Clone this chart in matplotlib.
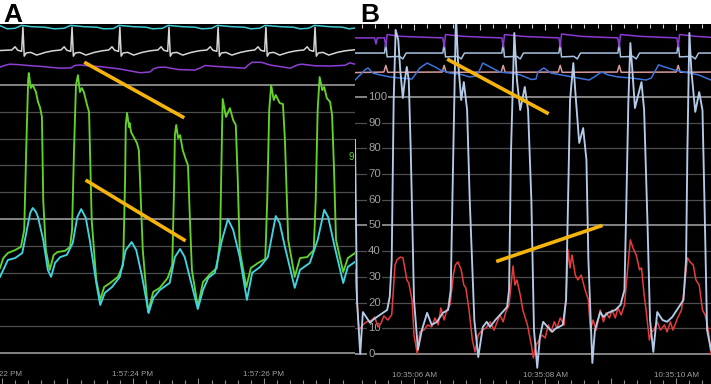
import matplotlib
matplotlib.use("Agg")
import matplotlib.pyplot as plt
from matplotlib.ticker import MultipleLocator

plt.rcParams['font.family'] = ['Liberation Sans', 'DejaVu Sans']

# ---------------- panel A : seconds after 1:57:22 PM ----------------
a_time_ticks = [0, 2, 4]
a_time_labels = ['1:57:22 PM', '1:57:24 PM', '1:57:26 PM']

# arterial pressure (green)
a_art = [(-0.03, 31.7), (0.02, 35.4), (0.09, 37.3), (0.20, 38.4), (0.29, 39.6), (0.34, 45.9),
         (0.37, 75.7), (0.40, 101.9), (0.41, 104.5), (0.44, 98.9), (0.47, 100.0), (0.52, 97.4),
         (0.55, 93.7), (0.58, 91.8), (0.61, 88.1), (0.63, 57.1), (0.67, 38.4), (0.73, 31.0),
         (0.79, 36.6), (0.85, 37.7), (0.96, 38.1), (1.04, 39.6), (1.07, 45.9), (1.10, 75.7),
         (1.13, 100.0), (1.16, 103.7), (1.19, 97.4), (1.22, 98.9), (1.25, 97.4), (1.30, 92.5),
         (1.33, 89.9), (1.34, 79.5), (1.37, 49.6), (1.44, 27.2), (1.50, 19.8), (1.56, 24.6),
         (1.65, 26.1), (1.77, 28.4), (1.85, 32.8), (1.88, 64.6), (1.89, 85.1), (1.91, 89.6),
         (1.94, 84.3), (1.95, 85.8), (1.97, 82.5), (2.02, 80.2), (2.06, 78.4), (2.09, 75.7),
         (2.12, 57.1), (2.15, 38.4), (2.23, 15.3), (2.31, 22.8), (2.41, 24.3), (2.53, 28.0),
         (2.60, 32.8), (2.63, 64.6), (2.64, 81.3), (2.66, 85.1), (2.69, 80.2), (2.72, 81.3),
         (2.76, 75.7), (2.81, 72.0), (2.84, 70.1), (2.87, 49.6), (2.90, 31.0), (2.99, 17.2),
         (3.07, 26.5), (3.18, 29.5), (3.28, 31.7), (3.33, 42.2), (3.36, 83.2), (3.37, 94.8),
         (3.42, 88.1), (3.48, 91.4), (3.53, 86.9), (3.57, 85.1), (3.60, 64.6), (3.63, 38.4),
         (3.73, 24.6), (3.80, 31.7), (3.91, 33.6), (4.02, 35.1), (4.05, 57.1), (4.08, 90.7),
         (4.11, 100.0), (4.15, 94.4), (4.18, 96.3), (4.24, 93.3), (4.29, 92.9), (4.32, 79.5),
         (4.37, 42.2), (4.47, 28.4), (4.55, 35.4), (4.66, 35.8), (4.76, 38.4), (4.79, 57.1),
         (4.82, 90.7), (4.85, 103.0), (4.89, 98.1), (4.92, 99.3), (4.96, 95.1), (5.01, 93.7),
         (5.04, 88.8), (5.07, 68.3), (5.10, 42.2), (5.21, 30.2), (5.28, 35.4), (5.39, 37.3)]

# second pressure (cyan, lower)
a_cyan = [(-0.03, 28.4), (0.02, 31.0), (0.09, 34.7), (0.20, 35.4), (0.31, 37.3), (0.38, 45.9),
          (0.43, 52.2), (0.47, 54.1), (0.52, 52.6), (0.55, 50.7), (0.63, 42.2), (0.70, 31.0),
          (0.75, 28.4), (0.81, 33.6), (0.89, 35.8), (0.99, 36.6), (1.08, 41.0), (1.15, 50.7),
          (1.21, 53.7), (1.28, 50.4), (1.34, 42.2), (1.44, 26.1), (1.50, 17.9), (1.57, 22.4),
          (1.68, 24.6), (1.80, 28.4), (1.89, 38.4), (1.98, 41.4), (2.05, 38.4), (2.14, 28.4),
          (2.24, 14.9), (2.31, 20.5), (2.41, 23.5), (2.56, 26.1), (2.64, 35.8), (2.72, 38.8),
          (2.79, 35.8), (2.87, 28.0), (2.99, 16.4), (3.07, 23.5), (3.15, 28.0), (3.25, 29.9),
          (3.36, 42.2), (3.45, 50.0), (3.53, 45.9), (3.63, 35.8), (3.74, 19.8), (3.82, 29.9),
          (3.94, 32.1), (4.06, 35.8), (4.18, 51.1), (4.24, 48.5), (4.32, 39.6), (4.47, 24.3),
          (4.55, 31.0), (4.70, 33.6), (4.82, 42.2), (4.92, 53.4), (4.98, 50.7), (5.08, 39.6),
          (5.21, 26.1), (5.28, 32.1), (5.39, 34.0)]

# ECG (white)
a_ecg = [(-0.03, 112.9), (0.15, 113.1), (0.20, 114.3), (0.24, 113.0), (0.30, 112.6), (0.32, 121.6),
         (0.34, 110.8), (0.37, 112.0), (0.44, 112.2), (0.53, 111.2), (0.66, 112.2), (0.78, 112.8),
         (0.90, 113.1), (0.95, 114.3), (0.99, 113.0), (1.05, 112.6), (1.07, 121.6), (1.09, 110.8),
         (1.12, 112.0), (1.19, 112.2), (1.28, 111.2), (1.41, 112.2), (1.53, 112.8),
         (1.63, 113.1), (1.68, 114.3), (1.72, 113.0), (1.78, 112.6), (1.80, 121.6), (1.82, 110.8),
         (1.85, 112.0), (1.92, 112.2), (2.01, 111.2), (2.14, 112.2), (2.26, 112.8),
         (2.38, 113.1), (2.43, 114.3), (2.47, 113.0), (2.53, 112.6), (2.55, 121.6), (2.57, 110.8),
         (2.60, 112.0), (2.67, 112.2), (2.76, 111.2), (2.89, 112.2), (3.01, 112.8),
         (3.13, 113.1), (3.18, 114.3), (3.22, 113.0), (3.28, 112.6), (3.30, 121.6), (3.32, 110.8),
         (3.35, 112.0), (3.42, 112.2), (3.51, 111.2), (3.64, 112.2), (3.76, 112.8),
         (3.86, 113.1), (3.91, 114.3), (3.95, 113.0), (4.01, 112.6), (4.03, 121.6), (4.05, 110.8),
         (4.08, 112.0), (4.15, 112.2), (4.24, 111.2), (4.37, 112.2), (4.49, 112.8),
         (4.61, 113.1), (4.66, 114.3), (4.70, 113.0), (4.76, 112.6), (4.78, 121.6), (4.80, 110.8),
         (4.83, 112.0), (4.90, 112.2), (4.99, 111.2), (5.12, 112.2), (5.24, 112.8), (5.39, 113.2)]

# pleth / resp (purple)
a_purple = [(-0.03, 106.7), (0.05, 107.4), (0.12, 107.8), (0.27, 107.6), (0.45, 107.2), (0.58, 107.0),
            (0.89, 106.3), (1.05, 106.4), (1.11, 107.3), (1.19, 107.5), (1.35, 107.1), (1.50, 106.9),
            (1.80, 106.0), (2.11, 104.6), (2.26, 104.9), (2.31, 106.0), (2.38, 106.6), (2.49, 106.7),
            (2.69, 105.8), (2.95, 105.6), (3.02, 106.3), (3.10, 107.3), (3.25, 107.0), (3.50, 106.6),
            (3.71, 106.3), (3.76, 107.5), (3.82, 108.5), (3.96, 108.5), (4.09, 107.5), (4.40, 106.3),
            (4.52, 107.6), (4.58, 107.8), (4.78, 107.2), (5.01, 107.1), (5.24, 107.4), (5.31, 108.3),
            (5.39, 107.8)]

# top cyan trace
a_cyan_top = [(-0.03, 122.2), (0.08, 121.0), (0.20, 121.2), (0.30, 122.3), (0.45, 121.8), (0.65, 121.6),
              (0.80, 121.0), (0.95, 121.2), (1.05, 122.3), (1.25, 121.8), (1.45, 121.6), (1.55, 121.0),
              (1.70, 121.1), (1.79, 122.3), (2.00, 121.8), (2.20, 121.6), (2.30, 121.0), (2.45, 121.2),
              (2.54, 122.3), (2.75, 121.8), (2.95, 121.6), (3.05, 121.0), (3.20, 121.2), (3.29, 122.3),
              (3.50, 121.8), (3.70, 121.6), (3.80, 121.0), (3.93, 121.2), (4.02, 122.3), (4.25, 121.8),
              (4.45, 121.6), (4.55, 121.0), (4.68, 121.2), (4.77, 122.3), (5.00, 121.8), (5.20, 121.6),
              (5.30, 121.0), (5.39, 121.3)]

a_marks = [[(1.28, 108.2), (2.76, 88.1)], [(1.30, 64.2), (2.78, 42.2)]]

# ---------------- panel B : seconds after 10:35:00 AM ----------------
b_time_ticks = [6, 8, 10]
b_time_labels = ['10:35:06 AM', '10:35:08 AM', '10:35:10 AM']
b_levels = [0, 10, 20, 30, 40, 50, 60, 70, 80, 90, 100]

b_lv = [(5.10, 83.3), (5.13, 21.0), (5.18, 0.0), (5.22, 16.3), (5.28, 14.0), (5.33, 12.1), (5.37, 13.2),
        (5.48, 15.2), (5.59, 17.1), (5.63, 22.2), (5.66, 36.6), (5.69, 98.8), (5.72, 126.1),
        (5.76, 122.2), (5.79, 110.5), (5.83, 99.6), (5.86, 106.6), (5.89, 111.7), (5.92, 106.6),
        (5.95, 79.4), (6.00, 21.0), (6.06, 1.6), (6.12, 9.3), (6.20, 16.0), (6.27, 11.3), (6.35, 12.5),
        (6.44, 16.0), (6.52, 17.1), (6.56, 24.9), (6.60, 79.4), (6.64, 132.0), (6.67, 114.4),
        (6.72, 98.8), (6.76, 105.8), (6.81, 94.9), (6.85, 59.9), (6.92, 13.2), (6.98, -1.2),
        (7.05, 10.5), (7.11, 12.5), (7.16, 10.5), (7.24, 13.2), (7.34, 16.0), (7.42, 18.3),
        (7.45, 24.9), (7.48, 79.4), (7.53, 124.9), (7.57, 106.6), (7.62, 94.9), (7.69, 103.9),
        (7.74, 94.9), (7.79, 59.9), (7.83, 9.3), (7.88, -5.4), (7.92, 6.6), (7.97, 12.5), (8.05, 10.1),
        (8.11, 8.6), (8.15, 9.7), (8.27, 11.3), (8.32, 21.0), (8.35, 59.9), (8.38, 98.8), (8.43, 113.2),
        (8.47, 98.8), (8.52, 82.1), (8.58, 87.9), (8.63, 75.5), (8.66, 36.6), (8.72, -3.5), (8.76, 9.3),
        (8.84, 16.3), (8.89, 14.4), (8.96, 16.0), (9.07, 17.1), (9.15, 19.1), (9.21, 24.9), (9.24, 59.9),
        (9.27, 98.8), (9.30, 121.0), (9.33, 110.5), (9.37, 95.7), (9.42, 100.8), (9.47, 105.8),
        (9.51, 94.9), (9.56, 52.1), (9.60, 13.2), (9.65, 0.8), (9.71, 16.3), (9.79, 13.2), (9.86, 12.5),
        (9.94, 14.4), (10.03, 17.9), (10.11, 21.0), (10.15, 36.6), (10.17, 79.4), (10.20, 124.9),
        (10.23, 110.5), (10.29, 94.2), (10.35, 101.9), (10.40, 94.9), (10.43, 59.9), (10.47, 9.3),
        (10.53, 1.6)]

b_ao = [(5.10, 32.7), (5.13, 21.0), (5.16, 9.3), (5.22, 11.3), (5.28, 12.5), (5.36, 13.2), (5.40, 14.4),
        (5.45, 10.5), (5.50, 12.1), (5.54, 14.8), (5.60, 13.2), (5.66, 15.2), (5.71, 34.6), (5.74, 36.6),
        (5.79, 37.7), (5.83, 37.4), (5.86, 33.5), (5.89, 28.8), (5.92, 27.6), (5.97, 21.0), (6.00, 7.4),
        (6.05, 0.0), (6.09, 8.6), (6.15, 9.3), (6.21, 11.3), (6.27, 10.5), (6.32, 14.0), (6.37, 11.3),
        (6.41, 17.9), (6.46, 13.2), (6.50, 17.1), (6.55, 19.1), (6.60, 30.7), (6.63, 34.6), (6.67, 35.8),
        (6.72, 32.7), (6.76, 26.8), (6.79, 25.7), (6.84, 17.1), (6.89, 5.4), (6.93, 0.8), (6.98, 7.4),
        (7.04, 9.3), (7.10, 10.1), (7.16, 12.5), (7.22, 9.3), (7.27, 12.5), (7.31, 15.2), (7.36, 12.5),
        (7.40, 16.3), (7.45, 19.1), (7.48, 26.8), (7.51, 34.2), (7.54, 26.8), (7.57, 28.8), (7.62, 23.0),
        (7.66, 17.1), (7.73, 11.3), (7.79, 3.5), (7.82, -1.6), (7.86, 3.5), (7.91, 5.4), (7.95, 7.4),
        (8.00, 6.2), (8.05, 11.3), (8.09, 8.6), (8.14, 12.5), (8.18, 10.1), (8.23, 14.0), (8.29, 11.3),
        (8.32, 23.0), (8.35, 40.5), (8.38, 33.5), (8.41, 38.5), (8.46, 30.7), (8.50, 28.8), (8.55, 30.7),
        (8.61, 24.9), (8.66, 21.0), (8.69, 9.3), (8.73, 13.2), (8.78, 9.3), (8.84, 17.1), (8.89, 12.5),
        (8.93, 16.0), (8.98, 14.0), (9.02, 17.1), (9.07, 14.0), (9.11, 17.9), (9.16, 15.2), (9.21, 19.1),
        (9.25, 30.7), (9.30, 44.4), (9.34, 41.2), (9.39, 38.5), (9.44, 32.7), (9.47, 33.5), (9.51, 23.0),
        (9.54, 17.1), (9.59, 5.4), (9.62, 8.6), (9.66, 9.3), (9.71, 12.5), (9.76, 9.3), (9.82, 11.3),
        (9.86, 8.6), (9.91, 12.5), (9.95, 9.3), (10.02, 14.0), (10.08, 17.1), (10.12, 24.9), (10.17, 37.4),
        (10.21, 35.8), (10.26, 34.6), (10.30, 28.8), (10.35, 26.8), (10.40, 17.1), (10.44, 15.2),
        (10.49, 9.3), (10.53, 0.0)]

b_blue = [(5.10, 106.6), (5.18, 108.6), (5.25, 110.5), (5.30, 111.3), (5.37, 109.3), (5.48, 108.6),
          (5.63, 107.8), (5.79, 107.4), (5.97, 107.0), (6.09, 111.3), (6.20, 113.2), (6.32, 111.7),
          (6.40, 110.5), (6.55, 109.3), (6.70, 108.9), (6.85, 107.8), (6.96, 108.2), (7.05, 113.2),
          (7.16, 111.7), (7.31, 109.7), (7.47, 109.3), (7.62, 108.6), (7.79, 106.8), (7.86, 107.0),
          (7.89, 109.7), (7.98, 111.3), (8.09, 109.3), (8.24, 108.6), (8.50, 107.4), (8.67, 106.6),
          (8.75, 107.8), (8.86, 109.7), (8.96, 108.6), (9.11, 107.8), (9.31, 107.4), (9.54, 106.6),
          (9.62, 107.4), (9.73, 112.5), (9.82, 111.7), (9.97, 110.5), (10.12, 109.7), (10.34, 108.6),
          (10.53, 106.6)]

b_pink = [(5.10, 109.5), (5.54, 109.7), (5.57, 112.3), (5.60, 109.6), (6.43, 109.7), (6.46, 112.3),
          (6.49, 109.6), (7.33, 109.7), (7.36, 112.3), (7.39, 109.6), (8.20, 109.7), (8.23, 112.3),
          (8.26, 109.6), (9.10, 109.7), (9.13, 112.3), (9.16, 109.6), (10.00, 109.7), (10.03, 112.3),
          (10.06, 109.6), (10.53, 109.7)]

b_ecg = [(5.10, 117.1), (5.55, 117.1), (5.57, 121.0), (5.59, 115.6), (5.78, 115.8), (5.83, 114.8),
         (5.88, 117.1), (6.44, 117.1), (6.46, 121.0), (6.48, 115.6), (6.67, 115.8), (6.72, 114.8),
         (6.77, 117.1), (7.34, 117.1), (7.36, 121.0), (7.38, 115.6), (7.57, 115.8), (7.62, 114.8),
         (7.67, 117.1), (8.21, 117.1), (8.23, 121.0), (8.25, 115.6), (8.44, 115.8), (8.49, 114.8),
         (8.54, 117.1), (9.11, 117.1), (9.13, 121.0), (9.15, 115.6), (9.34, 115.8), (9.39, 114.8),
         (9.44, 117.1), (10.01, 117.1), (10.03, 121.0), (10.05, 115.6), (10.24, 115.8), (10.29, 114.8),
         (10.34, 117.1), (10.53, 117.1)]

b_purple = [(5.10, 123.0), (5.40, 123.0), (5.42, 120.6), (5.44, 123.0), (5.55, 123.0), (5.57, 119.5),
            (5.59, 124.3), (5.80, 123.6), (6.20, 123.2), (6.44, 123.0), (6.46, 119.5), (6.48, 124.3),
            (6.75, 123.6), (7.10, 123.2), (7.34, 123.0), (7.36, 119.5), (7.38, 124.3), (7.65, 123.6),
            (8.00, 123.2), (8.21, 123.0), (8.23, 119.5), (8.25, 124.5), (8.55, 123.6), (8.90, 123.2),
            (9.11, 123.0), (9.13, 119.5), (9.15, 124.3), (9.45, 123.6), (9.80, 123.2), (10.01, 123.0),
            (10.03, 119.5), (10.05, 124.3), (10.30, 123.6), (10.53, 123.2)]

b_marks = [[(6.53, 114.4), (8.03, 93.8)], [(7.28, 36.2), (8.85, 49.8)]]

ORANGE = '#f5b40c'
GRID_DIM = '#4e4e4e'
GRID_BRIGHT = '#8e8e8e'
TXT = '#a0a0a0'


def trace(ax, pts, color, lw=1.1, z=3):
    t, v = zip(*pts)
    ax.plot(t, v, color=color, lw=lw, zorder=z, solid_joinstyle='round')


def setup(ax, xlim, ylim, top_ticks=False):
    ax.set_facecolor('black')
    ax.set_xlim(*xlim)
    ax.set_ylim(*ylim)
    for s in ax.spines.values():
        s.set_visible(False)
    ax.set_yticks([])
    ax.xaxis.set_major_locator(MultipleLocator(1))
    ax.xaxis.set_minor_locator(MultipleLocator(0.2))
    ax.tick_params(axis='x', which='both', direction='in', colors='#8a8a8a',
                   labelbottom=False, width=0.8)
    ax.tick_params(axis='x', which='major', length=4.5)
    ax.tick_params(axis='x', which='minor', length=2.6)
    for lev in range(0, 101, 10):
        bright = lev in (0, 50, 100)
        ax.axhline(lev, color=GRID_BRIGHT if bright else GRID_DIM,
                   lw=1.3 if bright else 0.9, zorder=1)
    if top_ticks:
        sec = ax.secondary_xaxis('top')
        sec.xaxis.set_major_locator(MultipleLocator(1))
        sec.xaxis.set_minor_locator(MultipleLocator(0.2))
        sec.tick_params(which='both', direction='in', colors='#d0d0d0', labeltop=False, width=0.8)
        sec.tick_params(which='major', length=4)
        sec.tick_params(which='minor', length=2.6)
        sec.spines['top'].set_visible(False)


fig = plt.figure(figsize=(7.11, 3.84), dpi=100, facecolor='white')
h = 360 / 384

# ---- panel A
axA = fig.add_axes([0, 0, 355 / 711, h])
setup(axA, (-0.03, 5.39), (-11.6, 122.8))
trace(axA, a_cyan_top, '#3fc9d2')
trace(axA, a_ecg, '#d6d6d6')
trace(axA, a_purple, '#8f3fd4')
trace(axA, a_art, '#63d22b', lw=1.35)
trace(axA, a_cyan, '#3fd4e0', lw=1.35)
for seg in a_marks:
    trace(axA, seg, ORANGE, lw=2.6, z=5)
axA.text(5.34, 73.1, '9', color='#63d22b', fontsize=7, ha='center', va='center')
for t, lab in zip(a_time_ticks, a_time_labels):
    axA.text(t, -8.2, lab, color=TXT, fontsize=5.8, ha='center', va='center')

# ---- panel B
axB = fig.add_axes([355 / 711, 0, 356 / 711, h])
setup(axB, (5.10, 10.53), (-11.7, 128.4), top_ticks=True)
for lev in b_levels:
    axB.text(5.30, lev, str(lev), color=TXT, fontsize=8.2, ha='left', va='center', zorder=2,
             bbox=dict(facecolor='black', edgecolor='none', pad=0.6))
trace(axB, b_pink, '#d99a9a')
trace(axB, b_blue, '#3f73dc')
trace(axB, b_ecg, '#a9c3e2')
trace(axB, b_purple, '#8b3ad2')
trace(axB, b_ao, '#e83c3c', lw=1.1, z=3)
trace(axB, b_lv, '#b3cbe8', lw=1.35, z=4)
for seg in b_marks:
    trace(axB, seg, ORANGE, lw=2.6, z=5)
for t, lab in zip(b_time_ticks, b_time_labels):
    axB.text(t, -8.2, lab, color=TXT, fontsize=5.8, ha='center', va='center')

fig.text(3 / 711, 1 - 22 / 384, 'A', fontsize=19, fontweight='bold', color='black',
         ha='left', va='baseline')
fig.text(360 / 711, 1 - 22 / 384, 'B', fontsize=19, fontweight='bold', color='black',
         ha='left', va='baseline')

fig.savefig('out.png', dpi=100, facecolor='white')
